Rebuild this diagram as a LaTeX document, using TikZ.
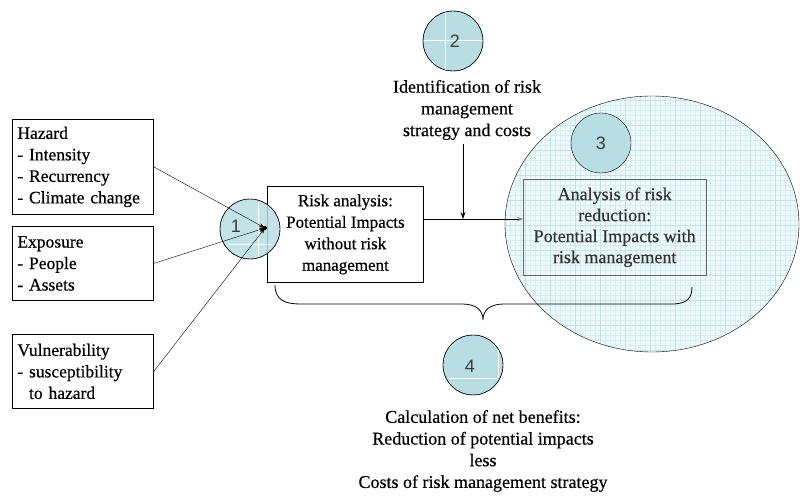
\documentclass[tikz,border=0pt]{standalone}
\usepackage{fontspec}
\setmainfont{Liberation Serif}[FakeBold=0.5]
\newfontfamily\numfont{Liberation Sans}
\usetikzlibrary{arrows.meta,positioning}
\definecolor{bubble}{RGB}{184,222,227}
\definecolor{bigfill}{RGB}{236,248,250}
\definecolor{gridfine}{RGB}{214,237,241}
\definecolor{gridbold}{RGB}{196,226,233}
\definecolor{numgray}{RGB}{60,60,60}
\tikzset{
  factorbox/.style={draw, thick, align=left, inner xsep=5pt, minimum width=141pt,
    text width=131pt, font=\fontsize{17.5}{21.5}\selectfont},
  mainbox/.style={draw, thick, align=center, minimum width=156pt, minimum height=96pt,
    inner xsep=2pt, font=\fontsize{17}{21.5}\selectfont},
  innerbox/.style={draw=gray!80!black, align=center, minimum width=183pt, minimum height=96pt,
    text=black!80, font=\fontsize{18}{21}\selectfont},
  numstyle/.style={font=\numfont\fontsize{18}{18}\selectfont, text=numgray},
  bubblenum/.style={circle, draw, fill=bubble, minimum size=60pt, inner sep=0pt, numstyle},
  caption/.style={align=center, font=\fontsize{18}{21.7}\selectfont},
  feed/.style={-{Stealth[length=6pt,width=4pt]}},
}
\begin{document}
\begin{tikzpicture}[x=1pt,y=-1pt]
\useasboundingbox (0,0) rectangle (807,497);

% large shaded region around step 3, with graph-paper texture
\begin{scope}
  \clip (652,224) ellipse [x radius=147, y radius=128];
  \fill[bigfill] (500,90) rectangle (805,360);
  \draw[gridfine, line width=0.3pt, step=5pt] (500,90) grid (805,360);
  \draw[gridbold, line width=0.4pt, step=25pt] (500,90) grid (805,360);
\end{scope}
\draw (652,224) ellipse [x radius=147, y radius=128];

% input factors
\node[factorbox, anchor=north west, minimum height=95pt] (hazard) at (12,119)
  {Hazard\\- Intensity\\- Recurrency\\- Climate change};
\node[factorbox, anchor=north west, minimum height=74pt] (exposure) at (12,226)
  {Exposure\\- People\\- Assets};
\node[factorbox, anchor=north west, minimum height=74pt] (vuln) at (12,334)
  {Vulnerability\\- susceptibility\\\ \ to hazard};

% risk analysis without management
\node[mainbox, anchor=north west] (risk) at (267,186)
  {Risk analysis:\\Potential Impacts\\without risk\\management};

% step 1 bubble
\node[bubblenum, fill opacity=0.85, text opacity=1] (s1) at (250,229) {};
\draw[white, line width=0.6pt] (228,244) -- (272,244);
\draw[white, line width=0.6pt] (258,202) -- (258,257);
\draw (s1) circle [radius=30];
\node[numstyle] (n1) at (236,226) {1};
\coordinate (p) at (265,228);
\fill (p) circle [radius=2];
\draw[feed] (hazard.east) -- (p);
\draw[feed] (exposure.east) -- (p);
\draw[feed] (vuln.east) -- (p);

% step 2: strategy identification
\node[bubblenum] (s2) at (453,41) {};
\draw[white, line width=0.6pt] (424,40) -- (482,40);
\draw[white, line width=0.6pt] (445,12) -- (445,70);
\draw (s2) circle [radius=30];
\node[numstyle] (n2) at (455,41) {2};
\node[caption] (ident) at (467,110)
  {Identification of risk\\management\\strategy and costs};

% step 3: analysis with risk management
\node[bubblenum] (s3) at (601,143) {3};
\node[innerbox, anchor=north west] (reduce) at (523,179)
  {Analysis of risk\\reduction:\\Potential Impacts with\\risk management};

% connectors between the analyses
\coordinate (join) at (463,219);
\draw[-{Stealth[length=6pt,width=4.5pt,color=gray]}, thick]
  (risk.east |- join) -- (reduce.west |- join);
\draw[-{Stealth[length=7pt,width=5pt]}, thick] (ident.south -| join) -- (join);

% brace spanning both analyses
\coordinate (bl) at (275,285);
\coordinate (bt) at (483,320);
\coordinate (br) at (692,287);
\draw[thick] (bl) .. controls (275,300) and (285,304) .. (300,304) -- (462,304)
  .. controls (476,304) and (483,310) .. (bt)
  .. controls (483,310) and (490,304) .. (504,304) -- (672,304)
  .. controls (687,304) and (692,298) .. (br);

% step 4: net benefits
\node[bubblenum] (s4) at (473,365) {};
\draw[white, line width=0.6pt] (449,378) -- (497,378);
\draw[white, line width=0.6pt] (498,350) -- (498,378);
\draw (s4) circle [radius=30];
\node[numstyle] (n4) at (470,366) {4};
\node[caption] (net) at (483,451)
  {Calculation of net benefits:\\Reduction of potential impacts\\less\\Costs of risk management strategy};
\end{tikzpicture}
\end{document}
